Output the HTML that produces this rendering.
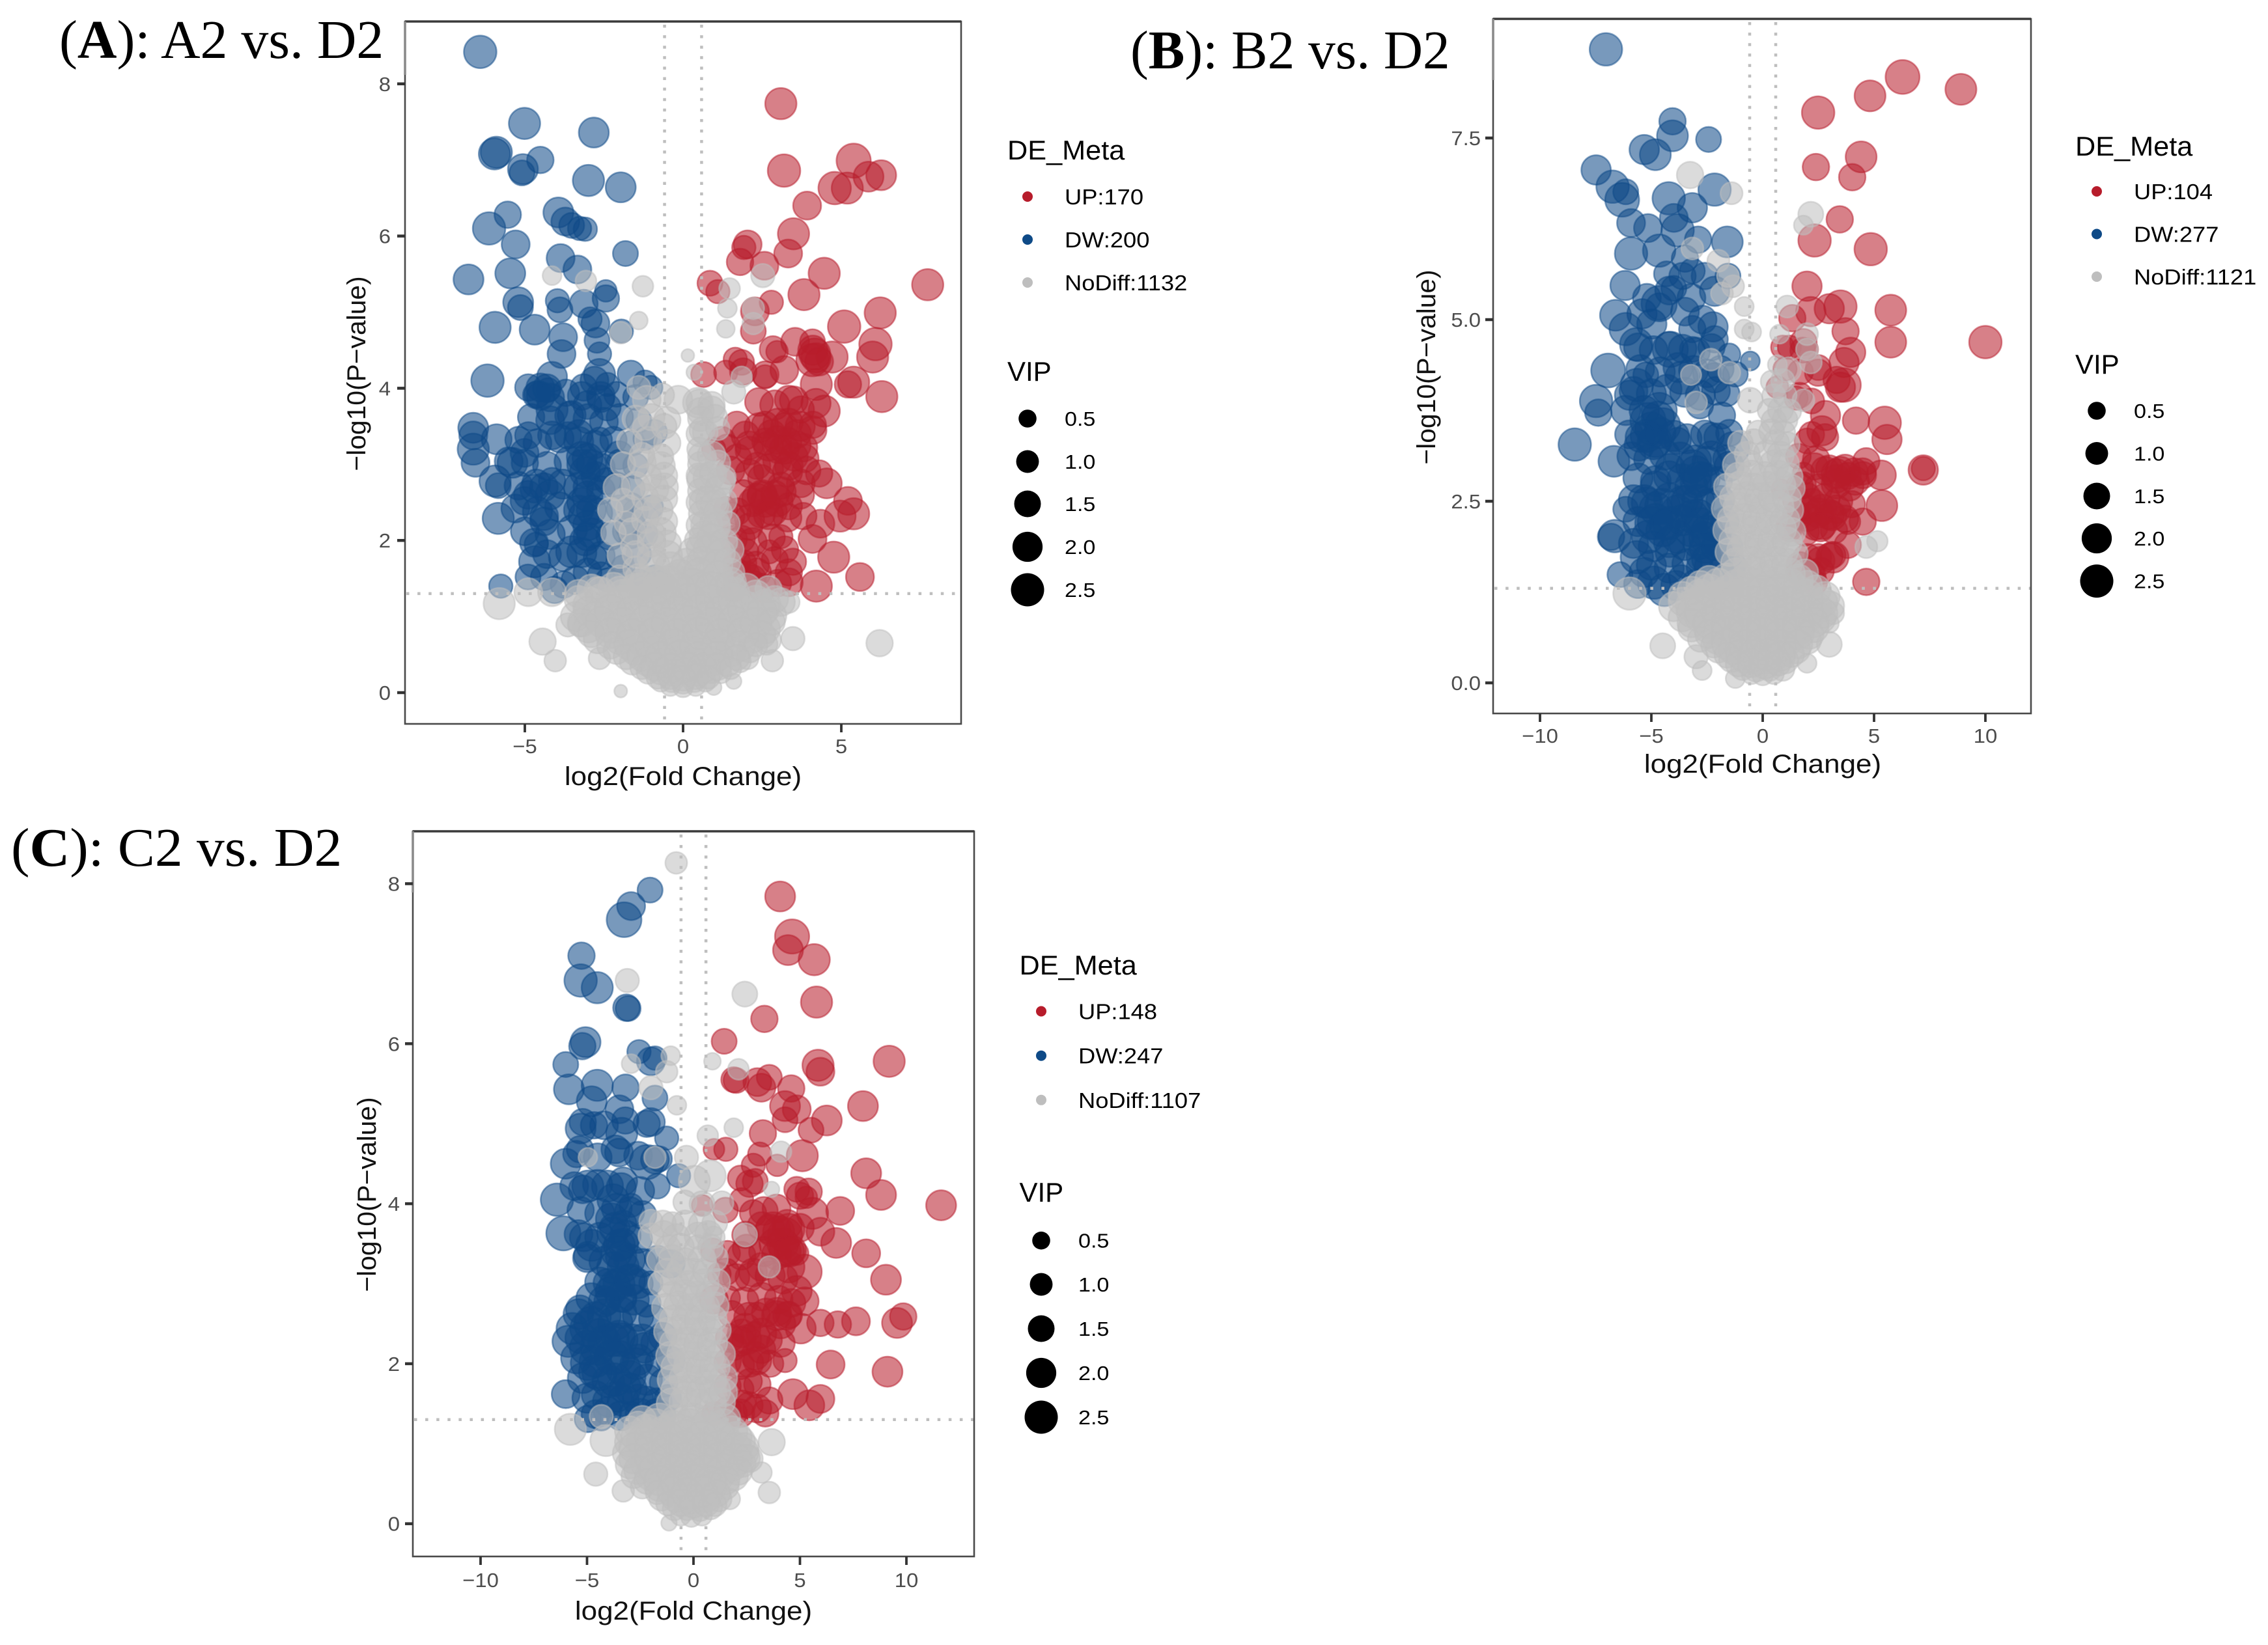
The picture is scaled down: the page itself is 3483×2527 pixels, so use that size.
<!DOCTYPE html>
<html lang="en">
<head>
<meta charset="utf-8">
<title>Volcano plots: A2, B2, C2 vs. D2</title>
<style>
html,body{margin:0;padding:0;background:#fff;}
svg{display:block;font-family:"Liberation Sans",sans-serif;}
.title{font-family:"Liberation Serif",serif;font-size:84px;fill:#000;}
</style>
</head>
<body>
<svg id="chart" xmlns="http://www.w3.org/2000/svg" width="3483" height="2527" viewBox="0 0 3483 2527">
<rect width="3483" height="2527" fill="#fff"/>
<text class="title" transform="translate(91,89) scale(.998,1)">(<tspan font-weight="bold">A</tspan>): A2 vs. D2</text>
<text class="title" transform="translate(1736,105) scale(.992,1)">(<tspan font-weight="bold">B</tspan>): B2 vs. D2</text>
<text class="title" transform="translate(17,1330) scale(1.018,1)">(<tspan font-weight="bold">C</tspan>): C2 vs. D2</text>
</svg>
<script>
// Each point is [log2 fold change, -log10 p-value, VIP].
const aUp=[[3.09,7.74,2.2],[3.19,6.86,2.4],[5.39,6.99,2.7],[4.79,6.63,2.4],[5.19,6.63,2.2],[5.86,6.78,2],[6.26,6.8,2],[3.92,6.4,1.7],[3.49,6.03,2.2],[2.04,5.89,1.7],[1.92,5.85,1.1],[1.8,5.66,1.5],[2.57,5.61,1.7],[3.32,5.77,1.7],[4.46,5.51,2.2],[7.73,5.36,2.2],[.85,5.38,1.3],[1.1,5.27,1.1],[3.82,5.23,2.2],[2.79,5.13,1.1],[2.27,5.01,1.7],[6.23,4.99,2.2],[5.09,4.81,2.4],[2.22,4.75,1.3],[6.08,4.58,2.4],[5.99,4.41,2.2],[3.54,4.61,1.7],[4.09,4.61,1.3],[4.16,4.45,2.2],[4.09,4.37,2.4],[4.71,4.41,2.2],[2.84,4.51,1.5],[2.97,4.48,.9],[1.85,4.34,1.3],[1.65,4.38,1.1],[1.35,4.21,1.1],[.65,4.18,1.3],[2.59,4.15,1.1],[5.39,4.08,2.2],[5.21,4.05,1.5],[6.28,3.89,2.2],[4.21,4.05,2.2],[3.34,3.85,1.7],[3.72,3.72,1.5],[4.46,3.7,2.2],[4.09,3.45,1.7],[3.34,3.55,1.7],[2.59,3.52,1.5],[1.97,3.38,1.7],[1.22,3.32,1.5],[.97,3.2,1.1],[2.09,3.25,1.7],[2.97,3.32,1.7],[3.59,3.25,1.7],[3.84,3.08,1.7],[3.34,2.98,1.7],[2.97,3.05,1.7],[2.34,2.98,1.5],[1.72,3.08,1.7],[2.47,2.82,1.5],[3.72,2.75,1.7],[4.54,2.75,2],[3.09,2.72,1.5],[2.34,2.55,2],[2.97,2.52,2.2],[3.34,2.45,1.5],[2.47,2.35,1.7],[2.84,2.38,1.7],[1.35,2.42,1.1],[1.72,2.38,1.5],[5.21,2.52,1.7],[4.96,2.32,2.2],[5.39,2.35,2.2],[4.34,2.22,1.7],[4.09,2.02,1.7],[4.76,1.78,2.2],[2.09,2.18,1.5],[1.85,2.02,1.5],[3.09,2.05,1.1],[3.22,1.88,1.5],[3.47,1.72,1.5],[1.97,1.85,1.5],[1.72,1.58,1.5],[2.34,1.58,1.7],[3.34,1.58,1.5],[4.21,1.4,2.2],[5.59,1.52,1.7],[1.6,1.35,1.1],[2.22,1.45,1.1],[3.34,1.45,1.7],[2.72,1.85,1.1],[2.5,2.6,1.9],[2.6,2.5,1.9],[2.2,2.5,1.7],[2.9,2.6,1.7],[3,3.2,1.7],[3.3,3.3,1.7],[3.5,3.1,1.7],[2.8,3.4,1.7],[2.6,3.3,1.5],[3.2,3.5,1.5],[3.6,3.4,1.7],[4.1,4.5,1.9],[4.2,4.4,1.9],[4.3,4.35,1.7],[2,1.55,1.5],[2.2,1.5,1.5],[1.9,1.7,1.5]];
const aUpDense=[[1.9,4.22,1.5],[2.6,4.18,1.5],[3.2,4.24,1.7],[2.4,3.82,1.7],[2.9,3.78,1.9],[3.5,3.84,1.7],[4.2,3.8,1.9],[1.7,3.52,1.5],[2.4,3.48,1.9],[3,3.54,1.9],[3.7,3.5,1.9],[4.1,3.52,1.5],[1.4,3.22,1.5],[2.1,3.18,1.7],[2.7,3.24,1.9],[3.2,3.2,1.9],[3.8,3.22,1.7],[1.5,2.92,1.7],[2.1,2.88,1.7],[2.7,2.94,1.9],[3.3,2.9,1.9],[3.9,2.92,1.7],[4.3,2.88,1.5],[1.9,2.62,1.5],[2.5,2.58,1.9],[3.1,2.64,1.9],[3.7,2.6,1.7],[1.5,2.32,1.7],[2.1,2.28,1.9],[2.7,2.34,1.9],[3.3,2.3,1.7],[3.8,2.32,1.5],[1.6,2.02,1.5],[2.2,1.98,1.7],[2.8,2.04,1.5],[1.7,1.72,1.5],[2.3,1.68,1.5],[2.9,1.74,1.5],[1.7,1.42,1.5],[2.5,1.38,1.7],[3,1.44,1.5]];
const aDw=[[-6.41,8.42,2.4],[-5.01,7.48,2.2],[-2.82,7.36,2],[-5.96,7.08,2.2],[-5.9,7.1,2.2],[-4.51,7,1.5],[-5.06,6.88,2],[-5.09,6.83,1.3],[-2.99,6.73,2.2],[-1.97,6.64,2],[-3.94,6.31,2],[-5.54,6.28,1.5],[-6.13,6.1,2.4],[-3.72,6.19,1.7],[-3.52,6.14,1.3],[-3.09,6.09,1.1],[-3.27,6.1,1.1],[-5.29,5.89,1.7],[-1.82,5.77,1.3],[-3.87,5.71,1.7],[-5.46,5.51,2],[-3.34,5.56,1.7],[-6.78,5.43,2],[-2.44,5.28,.9],[-5.21,5.13,2],[-5.14,5.06,1.3],[-3.97,5.15,1.1],[-3.89,5.03,1.3],[-3.14,5.11,1.7],[-2.44,5.18,1.5],[-5.94,4.8,2.2],[-4.69,4.77,2],[-2.77,4.85,1.7],[-2.94,4.91,1.1],[-1.95,4.75,1.1],[-3.79,4.67,1.7],[-2.72,4.63,1.3],[-3.84,4.45,1.7],[-2.64,4.45,1.1],[-6.18,4.1,2.4],[-4.14,4.15,2],[-4.89,4.01,1.5],[-4.51,4.01,1.7],[-4.26,3.98,1.1],[-4.64,3.91,1.5],[-2.64,4.18,2.2],[-3.14,4.01,1.5],[-2.39,4.05,1.1],[-1.2,4.08,1.1],[-1.65,4.19,1.5],[-1.02,4.01,1.1],[-6.63,3.48,2],[-6.63,3.38,1.7],[-5.89,3.33,2],[-6.63,3.2,2.2],[-6.56,3.02,1.7],[-5.51,3.04,1.7],[-5.39,3.02,2],[-5.01,3.15,1.7],[-4.89,3.38,1.5],[-4.14,3.38,1.7],[-3.64,3.38,1.5],[-4.14,3.72,2.2],[-3.52,3.65,1.7],[-3.02,3.78,1.7],[-2.39,3.75,1.5],[-5.94,2.78,2.2],[-5.84,2.72,1.3],[-5.84,2.29,2.2],[-5.01,2.52,1.7],[-4.64,2.75,1.7],[-4.14,2.78,1.5],[-4.39,2.32,1.7],[-4.39,2.25,1.7],[-4.71,1.97,1.7],[-4.64,1.95,1.1],[-4.69,1.72,2.2],[-3.52,1.85,2.2],[-3.02,2.05,1.7],[-3.14,2.32,2],[-3.02,2.58,2],[-2.77,2.85,1.7],[-3.02,3.08,2],[-2.02,3.12,1.7],[-1.65,2.18,2],[-1.65,2.05,1.1],[-2.39,2.78,1.5],[-2.64,3.32,1.3],[-.9,3.42,1.3],[-1.65,2.45,1.5],[-4.39,1.52,1.5],[-3.77,1.42,1.5],[-3.02,1.58,1.7],[-2.39,1.48,1.1],[-1.27,1.38,1.1],[-.65,1.45,1.1],[-4.06,1.35,1.5],[-5.76,1.4,1.1],[-2.77,1.78,1.1],[-1.9,1.65,1.1],[-3.1,2.9,2],[-3.2,3.1,2],[-2.9,3,1.9],[-3,2.7,1.9],[-3.2,2.5,1.9],[-3,2.2,2],[-3.1,2,2],[-2.9,2.4,1.9],[-4.2,2.6,1.9],[-4.4,2.7,1.7],[-3.3,3.4,1.7],[-4.3,4,1.7],[-4.5,3.9,1.7],[-4.9,2.6,1.7],[-2.8,4.1,1.7],[-2.6,3.9,1.7]];
const aDwDense=[[-4.6,3.92,1.5],[-4.2,3.88,1.7],[-3.7,3.94,1.5],[-3.2,3.9,1.7],[-2.6,3.86,1.5],[-2.1,3.92,1.3],[-1.5,3.88,1.3],[-4.8,3.62,1.5],[-4.2,3.58,1.7],[-3.6,3.64,1.7],[-3,3.6,1.9],[-2.5,3.56,1.7],[-2,3.62,1.5],[-1.4,3.58,1.3],[-5.2,3.32,1.5],[-4.6,3.28,1.7],[-3.9,3.34,1.7],[-3.3,3.3,1.9],[-2.8,3.26,1.7],[-2.2,3.32,1.5],[-1.6,3.28,1.3],[-1.2,3.34,1.1],[-5,3.02,1.5],[-4.3,2.98,1.7],[-3.6,3.04,1.9],[-3.2,3,1.9],[-2.6,2.96,1.7],[-2,3.02,1.5],[-1.5,2.98,1.3],[-5.2,2.72,1.7],[-4.7,2.68,1.7],[-3.8,2.74,1.9],[-3.3,2.7,1.9],[-2.6,2.66,1.7],[-2.1,2.72,1.5],[-1.6,2.68,1.3],[-5.3,2.42,1.7],[-4.6,2.38,1.9],[-3.9,2.44,1.9],[-3.3,2.4,1.9],[-2.7,2.36,1.9],[-2,2.42,1.5],[-1.5,2.38,1.3],[-1,2.44,1.1],[-5,2.12,1.7],[-4.2,2.08,1.9],[-3.5,2.14,1.9],[-2.9,2.1,1.9],[-2.3,2.06,1.7],[-1.8,2.12,1.5],[-1.2,2.08,1.3],[-4.3,1.82,1.7],[-3.8,1.78,1.7],[-3.2,1.84,1.9],[-2.6,1.8,1.7],[-2,1.76,1.5],[-1.4,1.82,1.3],[-4.9,1.52,1.3],[-3.4,1.48,1.7],[-2.6,1.54,1.5],[-1.9,1.5,1.5],[-1.4,1.46,1.3],[-.9,1.52,1.1]];
const aNd=[[-4.14,5.48,.6],[-3.07,5.41,.8],[-1.27,5.34,.8],[-1.4,4.89,.5],[-1.97,4.73,.9],[1.35,4.78,.5],[1.47,5.31,.8],[1.4,5.05,.6],[2.52,5.48,1.1],[2.22,5.05,.9],[2.22,4.85,.9],[.15,4.43,.1],[.35,4.21,.3],[1.85,4.15,.8],[1.6,3.95,1.1],[.47,3.81,2],[-.15,3.85,1.7],[-.65,3.91,1.1],[-1.15,3.85,1.7],[-1.4,4.01,1.1],[-1.97,.02,.1],[-4.44,.67,1.5],[-4.04,.42,.9],[-5.81,1.17,2.2],[-4.89,1.32,1.7],[-4.14,1.32,1.7],[3.47,.71,1.1],[6.21,.65,1.5],[2.82,.42,.9],[1.6,.15,.3],[.97,.07,.3],[2.04,.45,.9],[2.64,.64,.9],[3.34,1.19,.9],[3.09,1.19,1.7],[2.59,1.09,1.7],[-3.64,.89,1.1],[-3.27,.89,1.1],[-2.64,.45,.9],[-1.5,3.6,1.5],[-1,3.62,1.5],[-.5,3.58,1.5],[-1.7,3.3,1.3],[-1.1,3.32,1.5],[-.5,3.28,1.5],[-1.9,3,1.3],[-1.3,3.02,1.7],[-.7,2.98,1.7],[-2.1,2.7,1.5],[-1.5,2.72,1.7],[-.9,2.68,1.7],[-.6,2.7,1.7],[-2.3,2.4,1.3],[-1.7,2.42,1.5],[-1.1,2.38,1.7],[-.8,2.4,2],[-2.2,2.1,1.3],[-1.6,2.12,1.5],[-1,2.08,1.7],[-.7,2.1,2],[-2,1.8,1.3],[-1.5,1.82,1.5],[-1,1.78,1.7],[-.5,1.8,2],[-2,1.5,1.5],[-1.4,1.52,1.5],[-.8,1.48,1.7],[-.3,1.5,2],[.55,3.7,1.5],[.9,3.72,1.5],[.5,3.4,1.3],[.7,3.42,1.3],[.6,3.1,1.7],[.9,3.12,1.7],[.6,2.8,2],[.8,2.82,2],[1.2,2.78,1.7],[.7,2.5,2.2],[.9,2.52,2.2],[.75,2.2,2.2],[1,2.22,2],[.7,2.05,2.2],[.6,1.9,2.2],[1,1.92,2],[1.5,1.88,1.5],[.3,1.6,2.2],[.9,1.62,2.2],[1.5,1.58,1.7],[-1.2,1.45,2.2],[-.5,1.46,2.2],[.2,1.44,2.2],[.9,1.45,2.2],[1.5,1.44,2.2],[-3.3,1.3,1.7],[-2.6,1.32,2],[-1.9,1.28,2.2],[-1.2,1.31,2.2],[-.5,1.29,2.2],[.2,1.31,2.2],[.9,1.29,2.2],[1.6,1.31,2.2],[2.3,1.28,2],[-3,1.15,2],[-2.3,1.14,2.2],[-1.6,1.16,2.2],[-.9,1.14,2.2],[-.2,1.16,2.2],[.5,1.14,2.2],[1.2,1.16,2.2],[1.9,1.14,2.2],[2.6,1.16,2],[-3.4,1,1.9],[-2.7,1.01,2.2],[-2,.99,2.2],[-1.3,1.01,2.2],[-.6,.99,2.2],[.1,1.01,2.2],[.8,.99,2.2],[1.5,1.01,2.2],[2.2,.99,2.2],[2.8,1.01,1.9],[-3,.85,1.9],[-2.3,.86,2.2],[-1.6,.84,2.2],[-.9,.86,2.2],[-.2,.84,2.2],[.5,.86,2.2],[1.2,.84,2.2],[1.9,.86,2.2],[2.6,.84,1.9],[-2.7,.7,1.7],[-2,.71,2.2],[-1.3,.69,2.2],[-.6,.71,2.2],[.1,.69,2.2],[.8,.71,2.2],[1.5,.69,2.2],[2.2,.71,1.7],[2.7,.69,1.3],[-2.1,.55,1.5],[-1.5,.56,2],[-.9,.54,2.2],[-.3,.56,2.2],[.3,.54,2.2],[.9,.56,2.2],[1.5,.54,2],[2.1,.56,1.3],[-1.6,.4,1.3],[-1.1,.41,1.9],[-.6,.39,2],[-.1,.41,2],[.4,.39,2],[.9,.41,1.9],[1.4,.39,1.5],[1.8,.41,.9],[-1.1,.27,1.1],[-.7,.28,1.5],[-.3,.26,1.5],[.1,.28,1.5],[.5,.26,1.5],[.9,.28,1.1],[1.2,.26,.8],[-.7,.15,.8],[-.35,.16,1.1],[0,.14,1.1],[.35,.16,1.1],[.7,.15,.8],[-.4,.08,.6],[0,.07,.7],[.4,.08,.6]];
const aNdDense=[[.5,3.82,1.3],[.9,3.78,1.5],[.55,3.6,1.3],[1,3.62,1.3],[.6,3.45,1.3],[1.1,3.47,1.1],[.5,3.2,1.1],[.55,3,1.3],[1.1,3.02,1.3],[.5,2.85,1.3],[.95,2.87,1.5],[1.3,2.83,1.1],[.55,2.65,1.3],[1.1,2.67,1.5],[.5,2.5,1.3],[1,2.47,1.7],[1.3,2.52,1.3],[.6,2.35,1.5],[1.1,2.37,1.7],[.5,2.2,1.3],[1.05,2.18,1.7],[1.4,2.22,1.3],[.45,2,1.3],[.9,2.02,1.9],[1.3,1.98,1.5],[.3,1.85,1.7],[.8,1.87,2],[1.2,1.83,1.7],[.1,1.7,1.9],[.6,1.72,2],[1.1,1.68,1.9],[1.4,1.72,1.5],[-.1,1.55,2],[.5,1.57,2],[1.1,1.53,2],[-.3,1.4,2.2],[.3,1.42,2.2],[.9,1.38,2.2],[1.5,1.4,1.9],[-.6,3.5,1.3],[-1.2,3.48,1.3],[-.7,3.1,1.3],[-1.3,3.12,1.3],[-.6,2.85,1.5],[-1.1,2.83,1.5],[-.6,2.55,1.5],[-1.2,2.57,1.5],[-1.9,2.53,1.1],[-.6,2.25,1.5],[-1.2,2.27,1.5],[-1.8,2.23,1.1],[-.5,1.95,1.7],[-1,1.97,1.7],[-1.6,1.93,1.1],[-.4,1.65,2],[-.9,1.67,2],[-1.5,1.63,1.3],[-.6,1.35,2.2],[-1.3,1.37,2.2],[-2,1.33,2],[-2.7,1.35,1.5],[-2.9,1.37,1.7],[-2.2,1.38,2],[-1.5,1.36,2.2],[-.8,1.38,2.2],[-.1,1.36,2.2],[.6,1.37,2.2],[1.3,1.35,2.2],[2,1.37,2],[2.7,1.36,1.5],[-3.3,1.22,1.7],[-2.6,1.23,2],[-1.9,1.21,2.2],[-1.2,1.23,2.2],[-.5,1.21,2.2],[.2,1.23,2.2],[.9,1.21,2.2],[1.6,1.23,2.2],[2.3,1.21,2],[2.9,1.23,1.5],[-3,1.07,1.9],[-2.3,1.08,2.2],[-1.6,1.06,2.2],[-.9,1.08,2.2],[-.2,1.06,2.2],[.5,1.08,2.2],[1.2,1.06,2.2],[1.9,1.08,2.2],[2.5,1.06,2],[-3.2,.92,1.7],[-2.6,.93,2],[-1.9,.91,2.2],[-1.2,.93,2.2],[-.5,.91,2.2],[.2,.93,2.2],[.9,.91,2.2],[1.6,.93,2.2],[2.3,.91,2.2],[2.8,.93,1.5],[-2.9,.77,1.5],[-2.3,.78,2],[-1.6,.76,2.2],[-.9,.78,2.2],[-.2,.76,2.2],[.5,.78,2.2],[1.2,.76,2.2],[1.9,.78,2.2],[2.5,.76,1.5],[-2.3,.62,1.5],[-1.7,.63,2],[-1,.61,2.2],[-.3,.63,2.2],[.4,.61,2.2],[1.1,.63,2.2],[1.8,.61,2],[2.3,.63,1.1],[-1.8,.47,1.3],[-1.3,.48,1.9],[-.7,.46,2.2],[-.1,.48,2.2],[.5,.46,2.2],[1.1,.48,1.9],[1.7,.46,1.3],[-1.3,.33,1.1],[-.9,.34,1.7],[-.4,.32,1.9],[.1,.34,1.9],[.6,.32,1.9],[1.1,.34,1.5],[1.5,.32,.9],[-.8,.2,1],[-.4,.21,1.3],[0,.19,1.3],[.4,.21,1.3],[.8,.2,1]];

const bUp=[[6.28,8.34,2.65],[8.9,8.17,2.15],[4.82,8.08,2.15],[2.49,7.85,2.4],[4.42,7.24,2.15],[2.39,7.1,1.5],[4.02,6.96,1.5],[3.46,6.38,1.5],[2.33,6.09,2.4],[4.85,5.97,2.4],[1.99,5.46,1.92],[5.75,5.13,2.15],[3.49,5.18,2.4],[2.99,5.15,1.92],[2.16,5.11,1.92],[1.33,5.02,1.5],[3.72,4.84,1.5],[5.75,4.69,2.15],[10,4.69,2.4],[.9,4.62,1.1],[1.83,4.69,1.5],[1.99,4.59,.94],[3.95,4.55,1.92],[3.65,4.41,1.92],[2.49,4.27,1.5],[3.32,4.17,1.5],[3.65,4.1,2.6],[3.49,4.07,1.92],[.66,4.07,.94],[1.66,3.96,1.3],[2.82,3.68,1.92],[2.66,3.47,1.92],[4.19,3.61,1.5],[5.48,3.58,2.4],[5.58,3.35,1.92],[1.99,3.33,1.3],[7.21,2.93,1.92],[7.21,2.95,1.1],[4.65,3.05,1.5],[4.49,2.91,1.5],[5.32,2.86,1.92],[4.15,2.78,1.7],[3.49,2.91,1.92],[2.99,2.95,1.5],[2.33,2.98,1.5],[1.83,2.88,.94],[1.66,2.71,1.5],[.83,2.67,.62],[3.82,2.85,1.5],[3.32,2.81,1.7],[5.35,2.44,2.15],[1.99,2.57,1.5],[1.99,2.39,1.7],[2.66,2.39,1.92],[2.99,2.32,1.92],[3.32,2.39,1.7],[4.49,2.22,1.5],[3.82,2.22,1.3],[2.66,2.18,1.92],[1.66,2.29,1.3],[1.16,2.15,1.3],[2.33,2.15,1.5],[3.82,1.9,1.5],[3.16,1.73,2.15],[2.49,1.73,1.5],[1.66,1.62,1.5],[1.66,1.52,1.3],[2.16,1.52,1.5],[2.33,1.38,1.3],[3.16,1.76,1.3],[4.65,1.39,1.5]];
const bUpDense=[[2.8,2.92,1.7],[3.3,2.88,1.9],[3.7,2.94,1.9],[4.1,2.9,1.7],[4.5,2.86,1.5],[1.8,2.72,1.5],[2.5,2.68,1.7],[3.3,2.74,1.9],[3.9,2.7,1.7],[1.5,2.52,1.5],[2.2,2.48,1.7],[2.8,2.54,1.9],[3.4,2.5,1.7],[4,2.46,1.5],[1.5,2.32,1.5],[2,2.28,1.7],[2.5,2.34,1.9],[3.1,2.3,1.9],[3.7,2.26,1.5],[1.2,2.12,1.3],[1.9,2.08,1.7],[2.6,2.14,1.7],[3.2,2.1,1.5],[2,1.72,1.7],[2.6,1.68,1.7],[3,1.74,1.5],[1.7,1.52,1.7],[2.2,1.48,1.7],[2.6,1.54,1.5],[1.6,3.12,1.3],[2.4,3.08,1.5],[2.2,3.42,1.3],[2.8,3.38,1.5],[1.5,3.92,1.1],[2.2,3.88,1.3],[1,4.32,1.1],[1.7,4.28,1.3],[2.5,4.34,1.3],[1.2,4.62,1.1],[1.8,4.58,1.3]];
const bDw=[[-7.04,8.72,2.4],[-4.05,7.73,1.5],[-4.05,7.53,2.15],[-2.43,7.48,1.3],[-5.32,7.34,1.92],[-4.82,7.27,2.15],[-7.48,7.06,1.92],[-6.74,6.83,2.4],[-6.15,6.76,1.3],[-6.31,6.65,2.65],[-2.16,6.79,2.4],[-4.22,6.67,2.4],[-3.16,6.54,1.92],[-3.99,6.4,1.7],[-3.82,6.23,2.4],[-5.91,6.33,1.7],[-5.15,6.26,1.7],[-1.59,6.07,2.15],[-5.91,5.91,2.4],[-4.65,5.95,2.4],[-3.49,5.84,1.5],[-3.16,5.67,1.3],[-6.18,5.47,1.92],[-4.32,5.63,1.3],[-1.56,5.6,1.3],[-2.16,5.39,1.92],[-4.65,5.22,2.9],[-3.99,5.43,1.3],[-6.61,5.06,2.15],[-5.42,5.08,1.92],[-3.49,5.11,1.7],[-4.65,5.18,1.5],[-6.15,4.87,2.4],[-4.98,4.94,1.92],[-3.16,4.87,1.5],[-2.23,4.9,1.92],[-5.68,4.66,2.4],[-4.15,4.59,2.9],[-2.16,4.73,1.5],[-3.16,4.59,1.3],[-1.5,4.52,.94],[-.56,4.43,.62],[-6.94,4.3,2.65],[-5.25,4.24,1.3],[-5.65,4.1,2.4],[-3.65,4.2,2.4],[-2.16,4.2,1.92],[-1.23,4.25,1.3],[-7.48,3.88,2.4],[-7.38,3.72,1.5],[-5.98,3.96,1.92],[-6.15,3.75,1.92],[-5.15,3.61,2.9],[-4.49,3.54,2.9],[-5.32,3.75,1.92],[-4.65,3.75,2.9],[-2.82,3.82,1.5],[-1.83,3.68,1.5],[-8.44,3.28,2.4],[-6.68,3.05,2.15],[-5.55,3.26,1.92],[-4.82,3.33,2.4],[-3.82,3.33,1.5],[-2.33,3.4,1.5],[-1.33,3.23,2.4],[-3.16,2.98,2.4],[-4.15,2.95,1.92],[-2.82,2.81,2.65],[-1.5,2.98,1.92],[-2.49,3.05,1.92],[-4.82,2.71,1.92],[-6.15,2.39,1.3],[-5.32,2.5,2.4],[-4.49,2.43,2.9],[-4.82,2.22,2.9],[-3.82,2.36,2.4],[-3.16,2.29,2.4],[-2.49,2.08,2.4],[-6.64,2.02,2.4],[-6.81,2.01,1.5],[-5.15,2.01,2.4],[-3.82,2.01,2.4],[-2.82,1.94,2.65],[-2.16,1.87,1.5],[-5.65,1.73,2.4],[-4.15,1.8,1.92],[-2.82,1.73,1.5],[-6.41,1.49,1.3],[-5.32,1.52,1.92],[-4.88,1.38,2.4],[-4.42,1.28,2.4],[-3.65,1.45,1.3],[-2.82,1.59,1.5],[-1.83,1.59,1.1],[-1.5,1.45,1.5],[-1.33,1.59,.94],[-5,3.5,2.4],[-4.7,3.65,2.4],[-4.9,3.3,2.4],[-5.2,3.4,2.4],[-3,2.9,2.4],[-3.2,2.7,2.4],[-2.9,2.5,2.4],[-3.4,2.5,2.2],[-3.2,2.1,2.4],[-2.9,2.3,2.4],[-4.8,2.4,2.4],[-5,2.2,2.4],[-4.5,2.1,2.4],[-4.2,2.2,2.4],[-2.6,2,2.2],[-2.5,1.7,2]];
const bDwDense=[[-5.6,4.62,1.7],[-4.9,4.58,1.7],[-4.2,4.64,1.7],[-3.6,4.6,1.7],[-3,4.56,1.7],[-2.3,4.62,1.5],[-5.5,4.32,1.7],[-4.6,4.28,1.9],[-3.8,4.34,1.9],[-3.1,4.3,1.9],[-2.5,4.26,1.7],[-1.9,4.32,1.5],[-5.8,4.02,1.7],[-5,3.98,1.9],[-4.3,4.04,1.9],[-3.5,4,1.9],[-2.8,3.96,1.9],[-2.1,4.02,1.7],[-1.6,3.98,1.3],[-6,3.42,1.7],[-5.5,3.38,1.9],[-4.6,3.44,2.1],[-4,3.4,2.1],[-3.4,3.36,1.9],[-2.6,3.42,1.7],[-2,3.38,1.7],[-1.5,3.44,1.5],[-5.9,3.12,1.7],[-5.1,3.08,2],[-4.4,3.14,2],[-3.7,3.1,2.1],[-3,3.06,2.1],[-2.3,3.12,2],[-1.6,3.08,1.7],[-5.6,2.82,1.9],[-4.8,2.78,2],[-4.2,2.84,2.1],[-3.6,2.8,2.1],[-3,2.76,2.1],[-2.6,2.82,2],[-2,2.78,1.7],[-5.8,2.52,1.9],[-5.2,2.48,2.1],[-4.2,2.54,2.1],[-3.6,2.5,2.1],[-2.4,2.46,2.1],[-1.9,2.52,1.7],[-5.6,2.22,1.9],[-4.4,2.18,2.1],[-3.6,2.24,2.1],[-2.8,2.2,2.1],[-2.2,2.16,2],[-1.7,2.22,1.7],[-5.8,1.92,1.9],[-4.9,1.88,2],[-4.2,1.94,2.1],[-3.5,1.9,2.1],[-2.6,1.86,2.1],[-2,1.92,1.9],[-1.5,1.88,1.5],[-5,1.62,1.9],[-4.2,1.58,1.9],[-3.4,1.64,1.9],[-2.4,1.6,1.9],[-1.8,1.56,1.7],[-1.3,1.62,1.3],[-5.6,1.36,1.7],[-3.9,1.34,1.9],[-3,1.37,1.7],[-2,1.35,1.7],[-1.4,1.37,1.3],[-5.2,5.3,1.7],[-4.2,5.4,1.7],[-3.2,5.3,1.7],[-2.7,5,1.7],[-3.6,5.6,1.5],[-2.6,5.6,1.5],[-2.9,6.1,1.5]];
const bNd=[[-3.26,6.99,1.5],[-1.4,6.74,.94],[-3.16,5.98,.94],[-1.99,5.81,.94],[-1.56,5.6,.94],[-1.33,5.46,.94],[-1.83,5.36,.94],[-.83,5.18,.62],[1.1,5.18,.94],[.76,4.8,.62],[-.83,4.87,.62],[-.5,4.83,.62],[1.99,4.8,.94],[1.99,4.59,.94],[2.16,4.41,.94],[.66,4.38,.62],[-3.22,4.24,.77],[-2.33,4.45,.94],[-1.5,4.27,.94],[-2.99,3.86,.94],[-.56,3.89,1.3],[1.16,4.31,1.3],[1.83,3.89,.94],[2.16,6.45,1.3],[1.83,6.3,.62],[5.15,1.95,.77],[4.65,1.87,.94],[-5.98,1.23,2.4],[-4.49,.51,1.3],[-2.99,.36,1.1],[-2.72,.17,.62],[-1.23,.06,.62],[2.99,.53,1.3],[1.99,.27,.62],[3.16,.96,.94],[2.99,.82,.62],[.5,3.6,1.3],[1,3.62,1.3],[-1,3.3,1.3],[-.4,3.32,1.3],[.6,3.3,1.5],[1.1,3.28,1.3],[-1.2,3,1.5],[-.6,3.02,1.5],[.5,3,1.9],[1,3.02,1.7],[-1.6,2.7,1.5],[-1,2.72,1.7],[-.4,2.68,1.9],[.2,2.7,2],[.8,2.72,2],[1.3,2.68,1.5],[-1.7,2.4,1.5],[-1.1,2.42,1.9],[-.5,2.38,2.1],[.1,2.4,2.1],[.7,2.42,2.1],[1.2,2.38,1.7],[-1.6,2.1,1.7],[-1,2.12,2],[-.4,2.08,2.2],[.2,2.1,2.2],[.8,2.12,2.2],[1.3,2.08,1.7],[-1.5,1.8,1.7],[-.9,1.82,2.2],[-.3,1.78,2.2],[.3,1.8,2.2],[.9,1.82,2.2],[1.4,1.78,1.7],[-1.2,1.5,2.2],[-.4,1.52,2.2],[.4,1.48,2.2],[1.2,1.5,2.2],[1.9,1.52,1.5],[-2.8,1.35,1.7],[-2,1.36,2.2],[-1.2,1.34,2.2],[-.4,1.36,2.2],[.4,1.34,2.2],[1.2,1.36,2.2],[2,1.34,2],[-3.6,1.2,1.7],[-2.8,1.21,2.2],[-2,1.19,2.2],[-1.2,1.21,2.2],[-.4,1.19,2.2],[.4,1.21,2.2],[1.2,1.19,2.2],[2,1.21,2.2],[2.8,1.19,1.9],[-4,1.05,1.9],[-3.2,1.06,2.2],[-2.4,1.04,2.2],[-1.6,1.06,2.2],[-.8,1.04,2.2],[0,1.06,2.2],[.8,1.04,2.2],[1.6,1.06,2.2],[2.4,1.04,2.2],[3,1.06,1.9],[-3.6,.9,1.7],[-2.8,.91,2.2],[-2,.89,2.2],[-1.2,.91,2.2],[-.4,.89,2.2],[.4,.91,2.2],[1.2,.89,2.2],[2,.91,2.2],[2.6,.89,2],[-3.2,.75,1.5],[-2.4,.76,2.2],[-1.6,.74,2.2],[-.8,.76,2.2],[0,.74,2.2],[.8,.76,2.2],[1.6,.74,2.2],[2.3,.76,1.9],[-2.8,.6,1.3],[-2,.61,2.2],[-1.2,.59,2.2],[-.4,.61,2.2],[.4,.59,2.2],[1.2,.61,2.2],[2,.59,1.7],[-2,.45,1.3],[-1.3,.46,2],[-.6,.44,2.2],[.1,.46,2.2],[.8,.44,2.2],[1.5,.46,1.7],[-1.4,.32,1.3],[-.8,.33,1.7],[-.2,.31,1.9],[.4,.33,1.9],[1,.31,1.5],[-.9,.2,1.1],[-.3,.19,1.3],[.3,.2,1.3],[.9,.19,1.1],[-.5,.12,.7],[0,.11,.8],[.5,.12,.7]];
const bNdDense=[[-2.4,1.42,1.7],[-1.6,1.43,2.2],[-.8,1.41,2.2],[0,1.43,2.2],[.8,1.41,2.2],[1.6,1.43,1.9],[-3.2,1.27,1.7],[-2.4,1.28,2.2],[-1.6,1.26,2.2],[-.8,1.28,2.2],[0,1.26,2.2],[.8,1.28,2.2],[1.6,1.26,2.2],[2.4,1.28,1.9],[-3.6,1.12,1.7],[-2.8,1.13,2.2],[-2,1.11,2.2],[-1.2,1.13,2.2],[-.4,1.11,2.2],[.4,1.13,2.2],[1.2,1.11,2.2],[2,1.13,2.2],[2.7,1.11,1.9],[-3.2,.97,1.9],[-2.8,.98,2.2],[-2,.96,2.2],[-1.2,.98,2.2],[-.4,.96,2.2],[.4,.98,2.2],[1.2,.96,2.2],[2,.98,2.2],[2.7,.96,1.9],[-3.2,.82,1.7],[-2.4,.83,2.2],[-1.6,.81,2.2],[-.8,.83,2.2],[0,.81,2.2],[.8,.83,2.2],[1.6,.81,2.2],[2.3,.83,1.9],[-2.4,.67,1.7],[-1.6,.68,2.2],[-.8,.66,2.2],[0,.68,2.2],[.8,.66,2.2],[1.6,.68,2.2],[2.1,.66,1.7],[-2.2,.52,1.3],[-1.6,.53,2],[-.8,.51,2.2],[0,.53,2.2],[.8,.51,2.2],[1.6,.53,1.7],[-1.6,.38,1.3],[-1,.39,1.9],[-.4,.37,2.2],[.2,.39,2.2],[.8,.37,1.9],[1.3,.39,1.3],[-1.1,.26,1.3],[-.5,.27,1.7],[.1,.25,1.7],[.7,.27,1.3],[-1.2,1.65,2],[-.6,1.66,2.2],[0,1.64,2.2],[.6,1.66,2.2],[1.1,1.64,2],[-1.3,1.95,1.9],[-.7,1.96,2.2],[-.1,1.94,2.2],[.5,1.96,2.2],[1.1,1.94,1.9],[-1.4,2.25,1.7],[-.8,2.26,2.1],[-.2,2.24,2.2],[.4,2.26,2.2],[1,2.24,1.9],[-1.3,2.55,1.7],[-.7,2.56,2],[-.1,2.54,2.1],[.5,2.56,2.1],[1.1,2.54,1.7],[-1.1,2.85,1.5],[-.5,2.86,1.9],[.1,2.84,1.9],[.7,2.86,1.9],[1.2,2.84,1.5],[-.7,3.15,1.3],[.2,3.16,1.5],[.8,3.14,1.5],[-.2,3.45,1.1],[.4,3.46,1.3],[.9,3.44,1.3],[.3,3.75,1.1],[.8,3.76,1.3],[1.2,3.74,1.1],[.5,3.95,1.1],[1,3.96,1.1],[.4,4.15,.9],[.9,4.16,1.1]];

const cUp=[[4.07,7.84,2],[4.63,7.34,2.7],[4.44,7.17,2],[5.67,7.05,2.2],[5.78,6.52,2.2],[3.33,6.31,1.5],[1.44,6.03,1.3],[9.19,5.78,2.2],[5.85,5.73,2.2],[5.96,5.65,1.7],[1.89,5.55,1.3],[2,5.54,1.3],[3,5.52,1.7],[3.19,5.45,1.7],[3.56,5.58,1.3],[4.59,5.44,1.5],[7.96,5.22,2],[4.3,5.22,2],[4.85,5.18,1.7],[4.3,5.05,1.3],[6.26,5.04,2],[5.52,4.92,1.3],[3.26,4.88,1.5],[5.11,4.6,2.2],[.96,4.68,.8],[1.52,4.68,1.1],[3.11,4.62,1.1],[2.81,4.48,1.1],[3.93,4.48,.9],[8.11,4.38,2],[8.81,4.11,2],[11.63,3.98,2],[4.85,4.18,1.3],[5.41,4.15,1.5],[5.3,4.08,.9],[2.63,4.25,1.5],[2.26,4.05,1.1],[6.89,3.91,1.7],[.41,3.98,.8],[3.3,3.91,1.7],[5.59,3.88,2.2],[3.74,3.68,2.7],[4.3,3.61,2.7],[4.48,3.68,2.2],[5.96,3.65,1.7],[6.7,3.51,2],[2.44,3.61,1.5],[8.11,3.38,1.7],[9.04,3.05,2],[4.3,3.41,2.2],[4.85,3.38,1.1],[2.26,3.35,1.7],[3.19,3.21,1.7],[5.22,3.15,2.7],[4.48,3.21,2.2],[1.52,3.15,1.5],[2.63,3.08,1.7],[4.85,2.91,2],[.96,2.8,1.7],[5.22,2.78,1.7],[5.96,2.51,1.5],[6.78,2.49,1.5],[7.63,2.53,1.7],[9.85,2.59,1.5],[9.56,2.51,2],[3.93,2.65,1.7],[4.48,2.61,1.5],[3,2.61,1.3],[2.44,2.44,2],[5.04,2.44,2],[3.19,2.38,2],[6.44,1.99,1.7],[9.11,1.9,2],[2.26,2.38,1.7],[1.89,2.21,1.5],[4.3,2.04,1.1],[3.19,2.18,1.7],[2.63,2.01,1.7],[2.63,1.78,1.3],[3.56,1.54,1.5],[4.67,1.62,2],[5.96,1.56,1.7],[5.44,1.48,2],[1.89,1.38,1.5],[.96,1.38,1.1],[2.63,1.48,1.5],[3.37,1.38,1.5],[4,3.65,2.2],[4.2,3.5,2.2],[3.8,3.5,2],[4.5,3.4,2],[2.9,2.1,1.7],[2.5,2.3,1.9],[2.3,1.5,1.5],[3.9,2.6,1.9],[4.1,2.5,1.9],[5,4.1,1.5]];
const cUpDense=[[2.2,4.32,1.3],[2.9,4.28,1.3],[1.5,3.92,1.3],[2.8,3.88,1.5],[3.9,3.94,1.7],[3.2,3.72,1.7],[3.6,3.68,1.9],[4.4,3.74,1.9],[5,3.7,1.7],[.9,3.42,1.1],[1.6,3.38,1.3],[2.5,3.44,1.7],[3.3,3.4,1.9],[3.9,3.36,1.9],[4.6,3.42,1.9],[1.2,3.12,1.1],[2,3.08,1.5],[2.8,3.14,1.7],[3.6,3.1,1.9],[4.2,3.06,1.9],[1.6,2.82,1.3],[2.4,2.78,1.7],[3.2,2.84,1.7],[4,2.8,1.7],[4.6,2.76,1.7],[1.8,2.62,1.5],[2.6,2.58,1.9],[3.4,2.64,1.7],[4.4,2.6,1.7],[1.7,2.32,1.7],[2.2,2.28,1.9],[2.9,2.34,1.9],[3.5,2.3,1.7],[4.1,2.26,1.7],[1.6,2.02,1.5],[2.2,1.98,1.7],[3,2.04,1.7],[3.6,2,1.5],[1.6,1.72,1.5],[2.2,1.68,1.5],[3,1.74,1.5],[1.6,1.42,1.5],[2.2,1.38,1.7],[3,1.44,1.7]];
const cDw=[[-2.04,7.92,1.3],[-2.93,7.72,1.7],[-3.26,7.55,2.8],[-5.26,7.1,1.5],[-5.3,6.79,2.4],[-4.52,6.7,2.2],[-3.15,6.45,1.5],[-3.07,6.44,1.3],[-5.07,6.02,2],[-5.22,5.97,1.5],[-6,5.74,1.3],[-2.56,5.9,1.1],[-2,5.78,1.7],[-1.81,5.82,1.1],[-5.85,5.43,2],[-4.52,5.48,2.2],[-3.19,5.45,1.5],[-4.78,5.28,2],[-1.81,5.32,1.3],[-3.48,5.18,1.7],[-2,5.02,1.7],[-5.3,4.94,2],[-4.67,4.98,1.5],[-3.37,4.88,2.2],[-1.26,4.82,1.1],[-6,4.5,2],[-5.33,4.68,1.5],[-3.67,4.68,1.7],[-2.19,4.52,2.7],[-1.81,4.55,1.7],[-4.96,4.22,2.2],[-6.41,4.05,2.4],[-4.04,4.22,2.2],[-3.3,4.28,1.7],[-.7,4.35,1.1],[-3.78,4.05,2.2],[-2.93,3.98,1.1],[-6.11,3.63,2.7],[-5.15,3.58,1.7],[-4.78,3.48,2.2],[-3.85,3.81,2.2],[-3.3,3.75,1.5],[-4.96,3.35,1.7],[-3.48,3.48,2.2],[-3.3,3.21,2.2],[-2.93,3.05,2.2],[-4.04,3.01,1.7],[-1.07,3.25,1.7],[-2,3.01,1.1],[-4.04,2.78,1.5],[-5.33,2.68,1.7],[-3.3,2.81,1.5],[-5.7,2.44,2.2],[-5.89,2.28,2.2],[-4.96,2.44,2.9],[-4.41,2.34,2.9],[-3.67,2.51,2.7],[-2.93,2.28,2.7],[-1.44,2.34,1.7],[-1.07,2.04,1.7],[-4.96,2.01,2.7],[-3.85,2.08,2.7],[-3.3,1.94,2.7],[-4.41,1.88,2.7],[-2.93,1.68,2.2],[-6,1.62,1.7],[-4.59,1.61,1.7],[-3.3,1.54,2.2],[-2.19,1.54,1.7],[-1.81,1.41,1.1],[-4.96,1.31,1.5],[-4.33,1.31,1.1],[-4.04,1.41,1.7],[-2.93,1.38,1.1],[-3.6,3.4,2.2],[-3.8,3.2,2.2],[-3.5,3,2.2],[-3.9,2.9,2],[-3.7,3.7,2],[-3.3,3.5,2],[-4.8,2.5,2.7],[-4.5,2.2,2.7],[-5,2.2,2.7],[-4.2,2.6,2.5],[-3.8,2.3,2.5],[-3.4,2.3,2.5],[-4.6,1.9,2.5],[-3.7,1.8,2.5],[-3.2,1.7,2.2],[-2.7,2,2.2],[-2.3,2.2,2]];
const cDwDense=[[-5.2,5.02,1.5],[-4.2,4.98,1.7],[-3.2,5.04,1.5],[-2.2,5,1.5],[-5.5,4.62,1.5],[-4.5,4.58,1.7],[-3.5,4.64,1.7],[-2.6,4.6,1.7],[-1.6,4.56,1.3],[-5.6,4.22,1.7],[-5.2,4.18,1.7],[-4.5,4.24,1.9],[-3.4,4.2,1.9],[-2.5,4.16,1.7],[-1.7,4.22,1.3],[-5.3,3.92,1.5],[-4.4,3.88,1.9],[-3.6,3.94,2],[-3,3.9,1.9],[-2.4,3.86,1.7],[-5.4,3.62,1.7],[-4.4,3.58,1.9],[-3.8,3.64,2.1],[-3.2,3.6,2.1],[-2.6,3.56,1.7],[-5,3.32,1.7],[-4.2,3.28,1.9],[-3.4,3.34,2.1],[-3,3.3,2.1],[-2.4,3.26,1.7],[-1.7,3.32,1.3],[-4.4,3.02,1.9],[-3.7,2.98,2.1],[-3,3.04,2.1],[-2.6,3,1.9],[-4.8,2.82,2],[-4.2,2.78,2.1],[-3.4,2.84,2.1],[-2.8,2.8,2],[-2.2,2.76,1.7],[-5.4,2.62,2],[-4.6,2.58,2.1],[-3.4,2.64,2.1],[-2.6,2.6,2.1],[-1.9,2.56,1.7],[-5.3,2.32,2.1],[-4.2,2.28,2.3],[-3.5,2.34,2.3],[-2.4,2.3,2.1],[-1.8,2.26,1.7],[-5.5,2.07,2.1],[-4.6,2.03,2.3],[-3.5,2.09,2.3],[-2.6,2.05,2.1],[-1.6,2.01,1.7],[-5.2,1.82,2],[-4,1.78,2.3],[-3,1.84,2.3],[-2.2,1.8,2.1],[-1.4,1.76,1.7],[-5,1.57,1.9],[-4,1.53,2.1],[-3.6,1.59,2.1],[-2.6,1.55,2.1],[-1.7,1.51,1.9],[-1.2,1.57,1.5],[-4.6,1.37,1.7],[-3.4,1.35,1.9],[-2.5,1.38,1.9],[-1.5,1.36,1.7]];
const cNd=[[-.81,8.26,.9],[-3.11,6.79,1.1],[2.41,6.62,1.3],[-1.07,5.85,.6],[.89,5.78,.4],[-2.93,5.75,.6],[-1.26,5.65,.9],[-2,5.45,1.1],[2.11,5.68,.8],[-.78,5.23,.6],[1.89,4.95,.6],[.67,4.85,.8],[-4.96,4.58,.6],[-1.81,4.58,.9],[-.33,4.58,1.1],[.78,4.35,2.2],[.04,4.28,2.2],[1.33,4.01,1.1],[3.67,4.18,.3],[3.56,3.21,.9],[-1.44,3.75,1.5],[-2,3.78,1.1],[.96,3.58,.9],[2.44,3.61,1.1],[4.11,4.65,.8],[-5.78,1.18,2.2],[-4.11,1.04,2.2],[-4.59,.62,1.1],[-3.3,.41,.9],[3.19,.64,.8],[3.56,.39,.9],[3.67,1.02,1.5],[1.7,.31,.8],[2.63,.81,1.5],[-4.33,1.34,1.1],[-1.15,.01,.3],[-2,3.6,1.3],[-1.4,3.62,1.5],[-.8,3.58,1.5],[.2,3.6,1.5],[.7,3.62,1.5],[-1.6,3.3,1.3],[-1,3.32,1.5],[-.4,3.28,1.5],[.4,3.3,1.7],[1,3.32,1.5],[-1.5,3,1.5],[-.9,3.02,1.7],[-.2,2.98,1.9],[.5,3,1.9],[1.1,3.02,1.5],[-1.3,2.7,1.7],[-.7,2.72,1.9],[-.1,2.68,2.1],[.5,2.7,2.1],[1,2.72,1.7],[-1.2,2.4,1.7],[-.6,2.42,2.1],[0,2.38,2.2],[.6,2.4,2.2],[1.1,2.42,1.7],[-1.1,2.1,1.7],[-.5,2.12,2.2],[.1,2.08,2.2],[.7,2.1,2.2],[1.3,2.12,1.7],[-1,1.8,1.9],[-.4,1.82,2.2],[.2,1.78,2.2],[.8,1.8,2.2],[1.4,1.82,1.7],[-1,1.5,2.2],[-.4,1.52,2.2],[.2,1.48,2.2],[.8,1.5,2.2],[1.3,1.52,1.7],[-2.4,1.3,1.7],[-1.6,1.31,2.2],[-.8,1.29,2.2],[0,1.31,2.2],[.8,1.29,2.2],[1.5,1.31,2],[-3,1.16,1.9],[-2.2,1.17,2.2],[-1.4,1.15,2.2],[-.6,1.17,2.2],[.2,1.15,2.2],[1,1.17,2.2],[1.8,1.15,2.2],[-3,1.02,1.9],[-2.4,1.03,2.2],[-1.6,1.01,2.2],[-.8,1.03,2.2],[0,1.01,2.2],[.8,1.03,2.2],[1.6,1.01,2.2],[2.2,1.03,1.9],[-3.1,.88,1.9],[-2.2,.89,2.2],[-1.4,.87,2.2],[-.6,.89,2.2],[.2,.87,2.2],[1,.89,2.2],[1.8,.87,2.2],[2.4,.89,1.7],[-3,.74,1.7],[-2.2,.75,2.2],[-1.4,.73,2.2],[-.6,.75,2.2],[.2,.73,2.2],[1,.75,2.2],[1.8,.73,2.2],[2.3,.75,1.5],[-2.8,.6,1.3],[-2,.61,2.2],[-1.2,.59,2.2],[-.4,.61,2.2],[.4,.59,2.2],[1.2,.61,2.2],[1.9,.59,1.7],[-2.4,.46,1.1],[-1.6,.47,2],[-.8,.45,2.2],[0,.47,2.2],[.8,.45,2.2],[1.5,.47,1.5],[-1.5,.32,1.3],[-.8,.33,1.9],[-.1,.31,1.9],[.6,.33,1.9],[1.2,.31,1.3],[-.9,.19,1.1],[-.3,.2,1.3],[.3,.19,1.3],[.8,.2,1.1],[-.6,.1,.7],[-.1,.09,.8],[.4,.1,.7]];
const cNdDense=[[-2.6,1.23,1.7],[-1.8,1.24,2.2],[-1,1.22,2.2],[-.2,1.24,2.2],[.6,1.22,2.2],[1.4,1.24,2.2],[-2.7,1.09,1.9],[-2,1.1,2.2],[-1.2,1.08,2.2],[-.4,1.1,2.2],[.4,1.08,2.2],[1.2,1.1,2.2],[2,1.08,2.2],[-2.8,.95,1.9],[-2,.96,2.2],[-1.2,.94,2.2],[-.4,.96,2.2],[.4,.94,2.2],[1.2,.96,2.2],[2,.94,2.2],[2.4,.96,1.7],[-2.8,.81,1.9],[-2,.82,2.2],[-1.2,.8,2.2],[-.4,.82,2.2],[.4,.8,2.2],[1.2,.82,2.2],[2,.8,2.2],[2.5,.82,1.5],[-2.6,.67,1.7],[-1.8,.68,2.2],[-1,.66,2.2],[-.2,.68,2.2],[.6,.66,2.2],[1.4,.68,2.2],[2.1,.66,1.7],[-2.2,.53,1.3],[-1.6,.54,2],[-.8,.52,2.2],[0,.54,2.2],[.8,.52,2.2],[1.5,.54,1.7],[-1.7,.39,1.1],[-1,.4,1.9],[-.3,.38,2.1],[.4,.4,2.1],[1.1,.38,1.5],[-1.2,.25,1.1],[-.6,.26,1.5],[0,.24,1.5],[.6,.26,1.5],[1,.24,1.1],[-.8,1.65,2.2],[-.2,1.66,2.2],[.4,1.64,2.2],[1,1.66,2.2],[1.4,1.64,1.7],[-.8,1.95,2.1],[-.2,1.96,2.2],[.4,1.94,2.2],[1,1.96,2],[-.9,2.25,1.9],[-.3,2.26,2.2],[.3,2.24,2.2],[.9,2.26,1.9],[-.9,2.55,1.9],[-.3,2.56,2.1],[.3,2.54,2.1],[.9,2.56,1.7],[-1,2.85,1.7],[-.4,2.86,2],[.2,2.84,2],[.8,2.86,1.7],[-1.2,3.15,1.5],[-.6,3.16,1.7],[0,3.14,1.7],[.6,3.16,1.5],[-1.2,3.45,1.3],[-.6,3.46,1.5],[.2,3.44,1.5],[.8,3.46,1.3],[-1,3.75,1.1],[-.4,3.76,1.3],[.4,3.74,1.5],[1,3.76,1.3],[.4,4,1.3],[-.4,4.02,1.1]];

const aXTicks=[-5,0,5];
const aYTicks=[0,2,4,6,8];
const bXTicks=[-10,-5,0,5,10];
const bYTicks=[0,2.5,5,7.5];
const cXTicks=[-10,-5,0,5,10];
const cYTicks=[0,2,4,6,8];
const aGroupLabels=["UP:170","DW:200","NoDiff:1132"];
const bGroupLabels=["UP:104","DW:277","NoDiff:1121"];
const cGroupLabels=["UP:148","DW:247","NoDiff:1107"];
const vipLevels=[0.5,1.0,1.5,2.0,2.5];
const foldThreshold=0.585;
const pThreshold=1.301;

const svg=document.getElementById('chart');
const NS='http://www.w3.org/2000/svg';
const RED='#B71C2B',BLUE='#0E4A87',GRAY='#BEBEBE';

function vipDiameter(v){return Math.sqrt(300+920*v);}

function node(tag,parent,attrs){
  const el=document.createElementNS(NS,tag);
  for(const k in attrs){el.setAttribute(k,attrs[k]);}
  parent.appendChild(el);
  return el;
}
function label(parent,x,y,str,size,fill,anchor,sx,rot,name){
  const el=document.createElementNS(NS,'text');
  
  
  el.setAttribute('font-size',size);
  el.setAttribute('fill',fill);
  el.setAttribute('text-anchor',anchor);
  el.setAttribute('transform','translate('+x+','+y+')'+(rot?' rotate('+rot+')':'')+' scale('+sx+',1)');
  el.textContent=str;
  parent.appendChild(el);
  return el;
}
function fmtTick(t,dec){
  const s=dec?Math.abs(t).toFixed(1):String(Math.abs(t));
  return (t<0?'\u2212':'')+s;
}
function drawPoints(parent,points,color,name,X,Y){
  points.forEach(function(p){
    const c=document.createElementNS(NS,'circle');
    
    
    c.setAttribute('cx',X(p[0]));
    c.setAttribute('cy',Y(p[1]));
    c.setAttribute('r',vipDiameter(p[2])/2);
    c.setAttribute('fill',color);
    c.setAttribute('fill-opacity','0.56');
    c.setAttribute('stroke',color);
    c.setAttribute('stroke-opacity','0.5');
    c.setAttribute('stroke-width','2.5');
    parent.appendChild(c);
  });
}
function drawPanel(cfg,up,dw,nd,xTicks,yTicks,groupLabels){
  const g=document.createElementNS(NS,'g');
  
  
  svg.appendChild(g);
  const X=function(v){return cfg.x0+v*cfg.xu;};
  const Y=function(v){return cfg.y0-v*cfg.yu;};
  const w=cfg.right-cfg.left,h=cfg.bottom-cfg.top;

  const pts=document.createElementNS(NS,'g');
  
  
  g.appendChild(pts);
  drawPoints(pts,dw,BLUE,'point-dw',X,Y);
  drawPoints(pts,up,RED,'point-up',X,Y);
  drawPoints(pts,nd,GRAY,'point-nodiff',X,Y);

  // threshold lines
  [-foldThreshold,foldThreshold].forEach(function(f){
    const l=node('line',g,{x1:X(f),x2:X(f),y1:cfg.top+5,y2:cfg.bottom,stroke:'#BEBEBE','stroke-width':4.5,'stroke-dasharray':'4.5 11.6'});
    
    
  });
  const hl=node('line',g,{x1:cfg.left+2,x2:cfg.right,y1:Y(pThreshold),y2:Y(pThreshold),stroke:'#BEBEBE','stroke-width':4.5,'stroke-dasharray':'4.5 12.6'});
  
  

  // frame
  const frame=node('rect',g,{x:cfg.left,y:cfg.top,width:w,height:h,fill:'none',stroke:'#4A4A4A','stroke-width':2.6});
  
  
  const topEdge=node('line',g,{x1:cfg.left,x2:cfg.right,y1:cfg.top,y2:cfg.top,stroke:'#3A3A3A','stroke-width':3.6});
  
  
  const leftUpper=node('line',g,{x1:cfg.left,x2:cfg.left,y1:cfg.top,y2:cfg.seam,stroke:'#8A8A8A','stroke-width':3.6});
  
  

  // ticks
  xTicks.forEach(function(t){
    const k=node('line',g,{x1:X(t),x2:X(t),y1:cfg.bottom,y2:cfg.bottom+13,stroke:'#333','stroke-width':3.8});
    
    
    label(g,X(t),cfg.xTickBase,fmtTick(t,false),31,'#4D4D4D','middle',1.06,0,'x-tick-label');
  });
  yTicks.forEach(function(t){
    const k=node('line',g,{x1:cfg.left-12,x2:cfg.left,y1:Y(t),y2:Y(t),stroke:'#333','stroke-width':4.5});
    
    
    label(g,cfg.yTickRight,Y(t)+11,fmtTick(t,cfg.yDec),31,'#4D4D4D','end',1.06,0,'y-tick-label');
  });

  // axis titles
  label(g,X(0),cfg.xTitleBase,'log2(Fold Change)',40,'#111','middle',1.1,0,'x-axis-title');
  label(g,cfg.yTitleBase,cfg.yTitleMid,'\u2212log10(P\u2212value)',40,'#111','middle',1.02,-90,'y-axis-title');

  // legend
  const L=cfg.legend;
  const leg=document.createElementNS(NS,'g');
  
  
  g.appendChild(leg);
  label(leg,L.titleX,L.metaBase,'DE_Meta',42,'#000','start',1.03,0,'legend-title-de-meta');
  [RED,BLUE,GRAY].forEach(function(color,i){
    const d=node('circle',leg,{cx:L.dotX,cy:L.groupY[i],r:8,fill:color});
    
    
    label(leg,L.textX,L.groupY[i]+12,groupLabels[i],33,'#000','start',1.1,0,'legend-entry');
  });
  label(leg,L.titleX,L.vipBase,'VIP',42,'#000','start',1,0,'legend-title-vip');
  vipLevels.forEach(function(v,i){
    const d=node('circle',leg,{cx:L.dotX,cy:L.vipY[i],r:vipDiameter(v)/2,fill:'#000'});
    
    
    label(leg,L.textX,L.vipY[i]+11,v.toFixed(1),31,'#000','start',1.1,0,'legend-size-label');
  });
}

drawPanel({id:'a',left:622,right:1476,top:33,bottom:1112,seam:115,x0:1049,xu:48.6,y0:1064,yu:116.9,xTickBase:1157,xTitleBase:1206,yTickRight:600,yTitleBase:561,yTitleMid:574,yDec:false,
  legend:{titleX:1547,metaBase:245,dotX:1578,textX:1635,groupY:[302,368,434],vipBase:585,vipY:[643,709,774,840,906]}},aUp.concat(aUpDense),aDw.concat(aDwDense),aNd.concat(aNdDense),aXTicks,aYTicks,aGroupLabels);
drawPanel({id:'b',left:2293,right:3119,top:29,bottom:1096,seam:123,x0:2707,xu:34.2,y0:1049,yu:111.6,xTickBase:1141,xTitleBase:1187,yTickRight:2274,yTitleBase:2204,yTitleMid:564,yDec:true,
  legend:{titleX:3187,metaBase:239,dotX:3220,textX:3277,groupY:[294,359.5,425],vipBase:574,vipY:[631,696.5,762,827,892.6]}},bUp.concat(bUpDense),bDw.concat(bDwDense),bNd.concat(bNdDense),bXTicks,bYTicks,bGroupLabels);
drawPanel({id:'c',left:634,right:1496,top:1277,bottom:2391,seam:1371,x0:1065,xu:32.7,y0:2340.7,yu:122.9,xTickBase:2438,xTitleBase:2488,yTickRight:614,yTitleBase:577,yTitleMid:1835,yDec:false,
  legend:{titleX:1565.5,metaBase:1497,dotX:1599,textX:1656,groupY:[1553.5,1621.7,1689.8],vipBase:1846,vipY:[1905.7,1973,2041,2109,2177]}},cUp.concat(cUpDense),cDw.concat(cDwDense),cNd.concat(cNdDense),cXTicks,cYTicks,cGroupLabels);
</script>
</body>
</html>
